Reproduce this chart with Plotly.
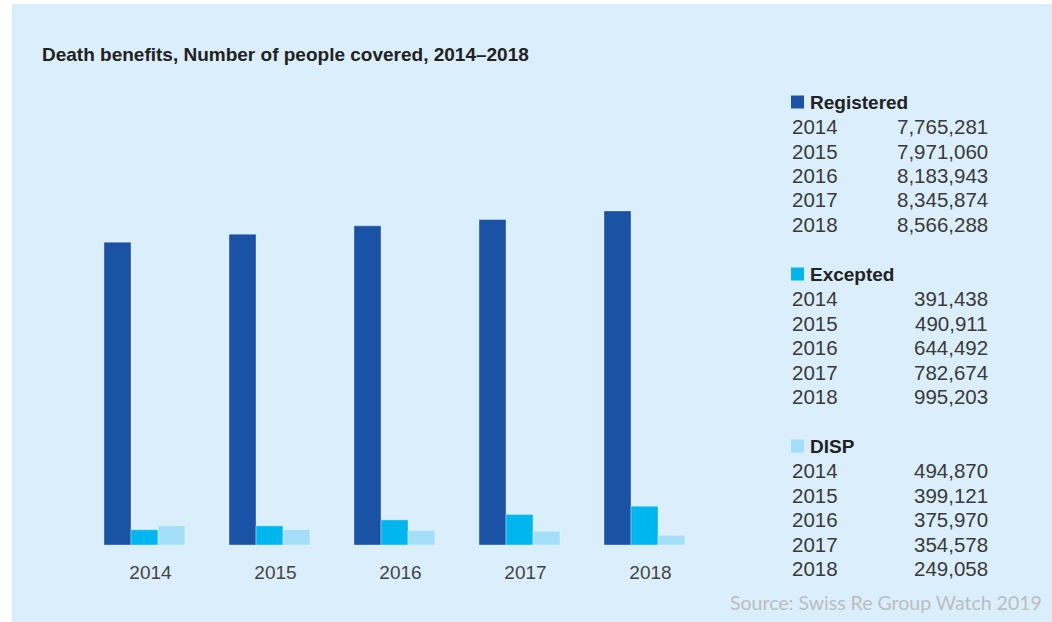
import plotly.graph_objects as go

# Number of people covered by death benefits, by scheme type
years = ["2014", "2015", "2016", "2017", "2018"]
registered = [7765281, 7971060, 8183943, 8345874, 8566288]
excepted = [391438, 490911, 644492, 782674, 995203]
disp = [494870, 399121, 375970, 354578, 249058]

series_names = ["Registered", "Excepted", "DISP"]
series_values = [registered, excepted, disp]
series_colors = ["#1A53A5", "#00B6EF", "#A4DFF9"]

W, H = 1052, 622
ML, MR, MT, MB = 88, 339, 77, 77
PW, PH = W - ML - MR, H - MT - MB
SHIFT = 6  # bar groups sit a few pixels left of their year labels


def px(x):
    return (x - ML) / PW


def py(y):
    return (H - MB - y) / PH


fig = go.Figure()
for name, vals, col in zip(series_names, series_values, series_colors):
    fig.add_trace(go.Bar(
        x=years, y=vals, name=name,
        marker=dict(color=col, line=dict(color="rgba(255,255,255,0.35)", width=1)),
        hoverinfo="x+y+name",
    ))

shapes = [
    # light blue panel behind everything
    dict(type="rect", xref="paper", yref="paper", layer="below",
         x0=px(12), x1=px(W + 10), y0=py(H + 10), y1=py(4),
         fillcolor="#DAEFFB", line=dict(width=0)),
]

annotations = [
    dict(text="<b>Death benefits, Number of people covered, 2014\u20132018</b>",
         xref="paper", yref="paper", x=px(40), y=py(55), xanchor="left", yanchor="middle",
         showarrow=False, font=dict(size=19, color="#222222", family="Liberation Sans, Arial")),
    dict(text="Source: Swiss Re Group Watch 2019",
         xref="paper", yref="paper", x=px(1044), y=py(602), xanchor="right", yanchor="middle",
         showarrow=False, font=dict(size=19.5, color="#BDBDBD", family="Lato, Open Sans")),
]

# side table: one block per series with yearly values
block_tops = [102, 274, 446]
row_step = 24.5
for name, vals, col, top in zip(series_names, series_values, series_colors, block_tops):
    shapes.append(dict(type="rect", xref="paper", yref="paper",
                       x0=px(791), x1=px(804), y0=py(top + 6.5), y1=py(top - 6.5),
                       fillcolor=col, line=dict(width=0)))
    annotations.append(dict(text=f"<b>{name}</b>", xref="paper", yref="paper",
                            x=px(808), y=py(top), xanchor="left", yanchor="middle",
                            showarrow=False,
                            font=dict(size=19, color="#222222", family="Liberation Sans, Arial")))
    for i, (yr, v) in enumerate(zip(years, vals)):
        yy = top + row_step * (i + 1)
        annotations.append(dict(text=yr, xref="paper", yref="paper",
                                x=px(790), y=py(yy), xanchor="left", yanchor="middle",
                                showarrow=False,
                                font=dict(size=20.5, color="#3A3A3A", family="Liberation Sans, Arial")))
        annotations.append(dict(text=f"{v:,}", xref="paper", yref="paper",
                                x=px(990), y=py(yy), xanchor="right", yanchor="middle",
                                showarrow=False,
                                font=dict(size=20.5, color="#3A3A3A", family="Liberation Sans, Arial")))

fig.update_layout(
    width=W, height=H,
    margin=dict(l=ML, r=MR, t=MT, b=MB, pad=0),
    paper_bgcolor="white",
    plot_bgcolor="rgba(0,0,0,0)",
    barmode="group",
    bargap=0.352,
    bargroupgap=0,
    showlegend=False,
    shapes=shapes,
    annotations=annotations,
    xaxis=dict(type="category", range=[-0.5 + SHIFT / 125, 4.5 + SHIFT / 125],
               showgrid=False, zeroline=False, showline=False, ticks="",
               ticklabelstandoff=14, ticklabelshift=SHIFT,
               tickfont=dict(size=19, color="#444444", family="Liberation Sans, Arial")),
    yaxis=dict(range=[0, 12000000], showgrid=False, zeroline=False, showline=False,
               showticklabels=False, ticks=""),
)

fig.write_html("out.html")
